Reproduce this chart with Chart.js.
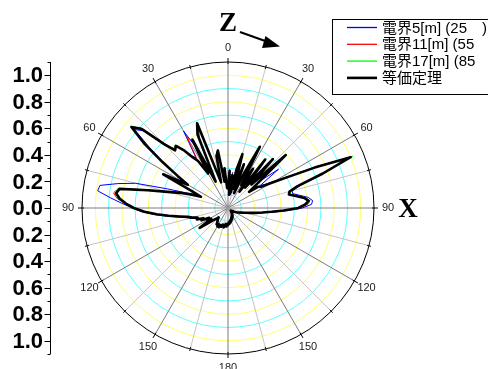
<!DOCTYPE html>
<html>
<head>
<meta charset="utf-8">
<script src="https://cdn.jsdelivr.net/npm/chart.js@4"></script>
<style>
html, body { margin: 0; padding: 0; background: #fff; }
</style>
</head>
<body>
<canvas id="polarChart" width="488" height="369"></canvas>
<script>
// ========== DATA ==========
// angle (deg, clockwise from Z) every 2.5 deg
const angles = Array.from({ length: 144 }, (_, i) => i * 2.5);
const angleTickLabels = ['0', '30', '60', '90', '120', '150', '180', '150', '120', '90', '60', '30'];
const radialTickValues = [1.0, 0.8, 0.6, 0.4, 0.2, 0.0, -0.2, -0.4, -0.6, -0.8, -1.0];
const radialTickLabels = ['1.0', '0.8', '0.6', '0.4', '0.2', '0.0', '0.2', '0.4', '0.6', '0.8', '1.0'];
const rMax = 1.1;

const seriesLabels = ['電界5[m] (25\u3000)', '電界11[m] (55\u3000)', '電界17[m] (85\u3000)', '等価定理'];

const field5 = [
    0.14, 0.26, 0.12, 0.27, 0.10, 0.28, 0.40, 0.18, 0.33, 0.14, 0.32, 0.48,
    0.22, 0.33, 0.18, 0.43, 0.22, 0.47, 0.27, 0.55, 0.32, 0.48, 0.30, 0.33,
    0.40, 0.52, 0.74, 0.98, 0.78, 0.58, 0.50, 0.50, 0.55, 0.61, 0.64, 0.63,
    0.56, 0.45, 0.35, 0.27, 0.22, 0.18, 0.15, 0.13, 0.11, 0.10, 0.08, 0.07,
    0.06, 0.05, 0.05, 0.04, 0.03, 0.04, 0.04, 0.05, 0.04, 0.05, 0.05, 0.06,
    0.06, 0.07, 0.07, 0.08, 0.08, 0.09, 0.09, 0.10, 0.10, 0.11, 0.11, 0.12,
    0.12, 0.13, 0.13, 0.13, 0.12, 0.14, 0.14, 0.14, 0.13, 0.15, 0.15, 0.15,
    0.15, 0.15, 0.14, 0.14, 0.13, 0.12, 0.11, 0.13, 0.14, 0.19, 0.25, 0.16,
    0.19, 0.17, 0.21, 0.21, 0.24, 0.25, 0.29, 0.33, 0.39, 0.47, 0.56, 0.65,
    0.72, 0.80, 0.89, 0.99, 0.98, 0.85, 0.72, 0.48, 0.33, 0.24, 0.32, 0.50,
    0.36, 0.47, 0.58, 0.74, 0.92, 0.86, 0.66, 0.61, 0.60, 0.56, 0.48, 0.45,
    0.67, 0.50, 0.24, 0.57, 0.64, 0.32, 0.22, 0.38, 0.42, 0.22, 0.28, 0.17
];

const field11 = [
    0.16, 0.27, 0.11, 0.26, 0.13, 0.29, 0.41, 0.16, 0.36, 0.13, 0.31, 0.50,
    0.21, 0.36, 0.16, 0.45, 0.21, 0.51, 0.26, 0.58, 0.31, 0.22, 0.29, 0.31,
    0.39, 0.51, 0.73, 1.01, 0.77, 0.56, 0.49, 0.48, 0.53, 0.59, 0.62, 0.60,
    0.54, 0.43, 0.34, 0.27, 0.21, 0.18, 0.14, 0.12, 0.11, 0.09, 0.08, 0.07,
    0.06, 0.05, 0.04, 0.04, 0.04, 0.03, 0.04, 0.04, 0.05, 0.05, 0.05, 0.06,
    0.07, 0.07, 0.08, 0.08, 0.09, 0.08, 0.10, 0.09, 0.11, 0.11, 0.12, 0.12,
    0.13, 0.12, 0.14, 0.13, 0.13, 0.14, 0.14, 0.14, 0.14, 0.15, 0.15, 0.14,
    0.16, 0.14, 0.15, 0.14, 0.12, 0.12, 0.10, 0.12, 0.15, 0.18, 0.25, 0.16,
    0.18, 0.17, 0.22, 0.21, 0.25, 0.25, 0.29, 0.32, 0.38, 0.46, 0.55, 0.64,
    0.72, 0.78, 0.84, 0.87, 0.84, 0.64, 0.48, 0.39, 0.31, 0.23, 0.31, 0.56,
    0.36, 0.46, 0.61, 0.80, 0.94, 0.90, 0.70, 0.60, 0.62, 0.56, 0.46, 0.43,
    0.62, 0.56, 0.23, 0.59, 0.67, 0.31, 0.21, 0.41, 0.43, 0.21, 0.29, 0.16
];

const field17 = [
    0.15, 0.29, 0.11, 0.26, 0.12, 0.31, 0.43, 0.16, 0.34, 0.13, 0.29, 0.53,
    0.20, 0.36, 0.16, 0.47, 0.20, 0.51, 0.25, 0.60, 0.30, 0.21, 0.28, 0.31,
    0.39, 0.51, 0.73, 1.02, 0.77, 0.56, 0.49, 0.48, 0.53, 0.59, 0.62, 0.59,
    0.54, 0.43, 0.33, 0.26, 0.21, 0.17, 0.14, 0.12, 0.10, 0.09, 0.08, 0.07,
    0.06, 0.05, 0.04, 0.04, 0.03, 0.04, 0.03, 0.04, 0.05, 0.04, 0.05, 0.06,
    0.07, 0.06, 0.08, 0.07, 0.09, 0.09, 0.10, 0.09, 0.11, 0.10, 0.12, 0.11,
    0.13, 0.12, 0.14, 0.13, 0.13, 0.15, 0.14, 0.13, 0.15, 0.14, 0.16, 0.14,
    0.16, 0.14, 0.15, 0.13, 0.12, 0.11, 0.10, 0.12, 0.14, 0.18, 0.27, 0.15,
    0.18, 0.16, 0.22, 0.20, 0.25, 0.24, 0.28, 0.31, 0.37, 0.46, 0.55, 0.64,
    0.72, 0.78, 0.83, 0.86, 0.84, 0.63, 0.48, 0.39, 0.30, 0.22, 0.31, 0.56,
    0.35, 0.46, 0.61, 0.80, 0.96, 0.89, 0.69, 0.60, 0.62, 0.56, 0.47, 0.42,
    0.31, 0.59, 0.22, 0.61, 0.69, 0.30, 0.20, 0.41, 0.45, 0.20, 0.31, 0.15
];

const equivalence = [
    0.15, 0.28, 0.10, 0.25, 0.12, 0.30, 0.42, 0.15, 0.35, 0.12, 0.30, 0.52,
    0.20, 0.35, 0.15, 0.46, 0.20, 0.50, 0.25, 0.59, 0.30, 0.20, 0.28, 0.30,
    0.38, 0.50, 0.72, 1.00, 0.76, 0.55, 0.48, 0.47, 0.52, 0.58, 0.61, 0.58,
    0.53, 0.42, 0.33, 0.26, 0.21, 0.17, 0.14, 0.12, 0.10, 0.09, 0.08, 0.07,
    0.06, 0.05, 0.04, 0.04, 0.03, 0.04, 0.03, 0.04, 0.05, 0.04, 0.05, 0.06,
    0.07, 0.06, 0.08, 0.07, 0.09, 0.08, 0.10, 0.09, 0.11, 0.10, 0.12, 0.11,
    0.13, 0.12, 0.14, 0.12, 0.13, 0.15, 0.14, 0.13, 0.15, 0.14, 0.16, 0.14,
    0.16, 0.14, 0.15, 0.13, 0.12, 0.11, 0.10, 0.12, 0.14, 0.18, 0.26, 0.15,
    0.18, 0.16, 0.22, 0.20, 0.25, 0.24, 0.28, 0.31, 0.37, 0.45, 0.54, 0.63,
    0.71, 0.77, 0.82, 0.85, 0.83, 0.62, 0.47, 0.38, 0.30, 0.22, 0.30, 0.55,
    0.35, 0.45, 0.60, 0.79, 0.95, 0.88, 0.68, 0.59, 0.61, 0.55, 0.47, 0.42,
    0.30, 0.58, 0.22, 0.60, 0.68, 0.30, 0.20, 0.40, 0.44, 0.20, 0.30, 0.15
];

const seriesColors = ['#0000ff', '#ff0000', '#00ff00', '#000000'];
const seriesWidths = [1, 1, 1, 2.6];

// ========== DECORATIONS (axis labels, left scale, legend) ==========
const decorPlugin = {
    id: 'decor',
    afterDraw(chart) {
        const ctx = chart.ctx;
        const r = chart.scales.r;
        const cy = r.yCenter;
        const outer = r.getDistanceFromCenterForValue(rMax);
        ctx.save();

        // small ticks on the outer ring
        ctx.strokeStyle = '#000';
        ctx.lineWidth = 1;
        for (let i = 0; i < angles.length; i += 6) {
            const a = r.getPointPosition(i, outer - 2);
            const b = r.getPointPosition(i, outer + (i % 12 === 0 ? 4 : 2));
            ctx.beginPath();
            ctx.moveTo(a.x, a.y);
            ctx.lineTo(b.x, b.y);
            ctx.stroke();
        }

        // angle labels
        ctx.font = '11px "Liberation Sans", Arial, sans-serif';
        ctx.fillStyle = '#222';
        ctx.textAlign = 'center';
        ctx.textBaseline = 'middle';
        angleTickLabels.forEach((t, k) => {
            const p = r.getPointPosition(k * 12, outer + 14);
            ctx.fillText(t, p.x, p.y);
        });

        // left radial scale
        const axisX = 50.5;
        ctx.beginPath();
        ctx.moveTo(axisX, cy - outer);
        ctx.lineTo(axisX, cy + outer);
        ctx.stroke();
        for (let k = -11; k <= 11; k++) {
            const y = Math.round(cy - Math.sign(k) * r.getDistanceFromCenterForValue(Math.abs(k) / 10)) + 0.5;
            const len = k % 2 === 0 ? 6 : 3;
            ctx.beginPath();
            ctx.moveTo(axisX - len, y);
            ctx.lineTo(axisX, y);
            ctx.stroke();
        }
        ctx.font = 'bold 22px "Liberation Sans", Arial, sans-serif';
        ctx.fillStyle = '#000';
        ctx.textAlign = 'right';
        radialTickValues.forEach((v, k) => {
            const y = cy - Math.sign(v) * r.getDistanceFromCenterForValue(Math.abs(v));
            ctx.fillText(radialTickLabels[k], 43, y + 1);
        });

        // Z / X direction labels
        ctx.font = 'bold 27px "Liberation Serif", "DejaVu Serif", serif';
        ctx.textAlign = 'center';
        ctx.fillText('Z', 228, 24);
        ctx.fillText('X', 408, 210);

        // arrow next to Z
        ctx.lineWidth = 2;
        ctx.beginPath();
        ctx.moveTo(240, 32);
        ctx.lineTo(268, 42);
        ctx.stroke();
        ctx.beginPath();
        ctx.moveTo(280, 46.5);
        ctx.lineTo(265.5, 36);
        ctx.lineTo(262, 48);
        ctx.closePath();
        ctx.fill();

        // legend box
        ctx.lineWidth = 1;
        ctx.fillStyle = '#fff';
        ctx.fillRect(333, 19.5, 160, 75);
        ctx.strokeRect(332.5, 19.5, 170, 75);
        ctx.font = '15px "Liberation Sans", "Noto Sans CJK JP", sans-serif';
        ctx.textAlign = 'left';
        chart.data.datasets.forEach((ds, k) => {
            const y = 27.5 + k * 16.8;
            ctx.strokeStyle = ds.borderColor;
            ctx.lineWidth = k === 3 ? 2.6 : 1.3;
            ctx.beginPath();
            ctx.moveTo(347, y);
            ctx.lineTo(377, y);
            ctx.stroke();
            ctx.fillStyle = '#000';
            ctx.fillText(ds.label, 382, y + 1);
        });
        ctx.restore();
    }
};

// ========== CHART ==========
const allSeries = [field5, field11, field17, equivalence];

new Chart(document.getElementById('polarChart').getContext('2d'), {
    type: 'radar',
    data: {
        labels: angles,
        datasets: allSeries.map((values, k) => ({
            label: seriesLabels[k],
            data: values,
            borderColor: seriesColors[k],
            borderWidth: seriesWidths[k],
            fill: false,
            pointRadius: 0,
            order: k === 3 ? 0 : 3 - k
        }))
    },
    options: {
        responsive: false,
        animation: false,
        events: [],
        layout: { padding: { left: 82, right: 114, top: 62, bottom: 15 } },
        elements: { line: { tension: 0, borderJoinStyle: 'round' } },
        plugins: {
            legend: { display: false },
            tooltip: { enabled: false }
        },
        scales: {
            r: {
                min: 0,
                max: rMax,
                ticks: { display: false, stepSize: 0.1 },
                pointLabels: { display: false },
                grid: {
                    circular: true,
                    lineWidth: 1,
                    color: (c) => {
                        const k = Math.round(c.tick.value * 10);
                        if (k >= 11) return '#000';
                        return k % 2 === 0 ? '#ffff70' : '#60ffff';
                    }
                },
                angleLines: {
                    display: true,
                    color: (c) => (c.index % 12 === 0 ? '#7a7a7a' : '#c4c4c4'),
                    lineWidth: (c) => (c.index % 6 === 0 ? 1 : 0)
                }
            }
        }
    },
    plugins: [decorPlugin]
});
</script>
</body>
</html>
